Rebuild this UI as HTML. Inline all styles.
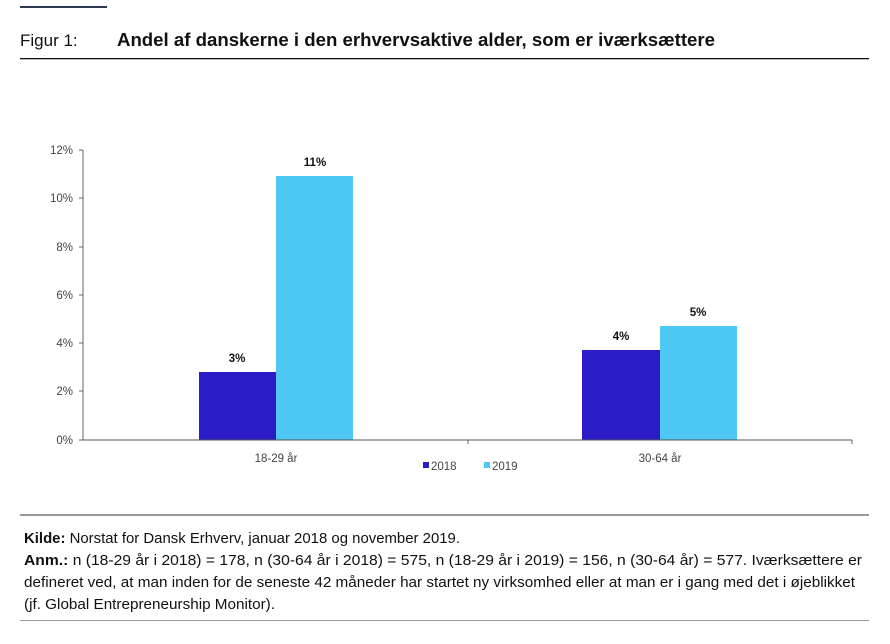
<!DOCTYPE html>
<html><head><meta charset="utf-8"><style>
body{margin:0;width:890px;height:639px;background:#fff;overflow:hidden;font-family:"Liberation Sans",sans-serif;}
</style></head><body>
<svg width="890" height="639" xmlns="http://www.w3.org/2000/svg" font-family="Liberation Sans, sans-serif">
<rect x="20" y="6" width="87" height="2" fill="#2a3a55"/>
<text x="20" y="46" font-size="17" fill="#111">Figur 1:</text>
<text x="117" y="46" font-size="18" font-weight="bold" fill="#111" textLength="598" lengthAdjust="spacingAndGlyphs">Andel af danskerne i den erhvervsaktive alder, som er iværksættere</text>
<rect x="20" y="58" width="849" height="1.3" fill="#111"/>
<g font-size="11.5" fill="#444" text-anchor="end">
<text x="73" y="154">12%</text><text x="73" y="202">10%</text><text x="73" y="251">8%</text>
<text x="73" y="299">6%</text><text x="73" y="347">4%</text><text x="73" y="395">2%</text><text x="73" y="444">0%</text>
</g>
<g stroke="#666" stroke-width="1">
<line x1="83" y1="150" x2="83" y2="440"/>
<line x1="79" y1="150" x2="83" y2="150"/><line x1="79" y1="198" x2="83" y2="198"/><line x1="79" y1="247" x2="83" y2="247"/>
<line x1="79" y1="295" x2="83" y2="295"/><line x1="79" y1="343" x2="83" y2="343"/><line x1="79" y1="391" x2="83" y2="391"/>
<line x1="79" y1="440" x2="83" y2="440"/>
<line x1="468" y1="440" x2="468" y2="444"/><line x1="852" y1="440" x2="852" y2="444"/>
</g>
<rect x="199" y="372" width="77" height="68" fill="#2a1dc8"/>
<rect x="276" y="176" width="77" height="264" fill="#4ec8f4"/>
<rect x="582" y="350" width="78" height="90" fill="#2a1dc8"/>
<rect x="660" y="326" width="77" height="114" fill="#4ec8f4"/>
<line x1="83" y1="440" x2="852" y2="440" stroke="#555" stroke-width="1"/>
<g font-size="11.5" font-weight="bold" fill="#111" text-anchor="middle">
<text x="237" y="362">3%</text><text x="315" y="166">11%</text>
<text x="621" y="340">4%</text><text x="698" y="316">5%</text>
</g>
<g font-size="11.5" fill="#444">
<text x="276" y="462" text-anchor="middle">18-29 år</text>
<text x="660" y="462" text-anchor="middle">30-64 år</text>
<rect x="423" y="462" width="6" height="6" fill="#2a1dc8"/><text x="431" y="470">2018</text>
<rect x="484" y="462" width="6" height="6" fill="#4ec8f4"/><text x="492" y="470">2019</text>
</g>
<rect x="20" y="514" width="849" height="2" fill="#999"/>
<g font-size="15" fill="#111">
<text x="24" y="543" textLength="436" lengthAdjust="spacingAndGlyphs"><tspan font-weight="bold">Kilde:</tspan> Norstat for Dansk Erhverv, januar 2018 og november 2019.</text>
<text x="24" y="565" textLength="838" lengthAdjust="spacingAndGlyphs"><tspan font-weight="bold">Anm.:</tspan> n (18-29 år i 2018) = 178, n (30-64 år i 2018) = 575, n (18-29 år i 2019) = 156, n (30-64 år) = 577. Iværksættere er</text>
<text x="24" y="587" textLength="831" lengthAdjust="spacingAndGlyphs">defineret ved, at man inden for de seneste 42 måneder har startet ny virksomhed eller at man er i gang med det i øjeblikket</text>
<text x="24" y="609" textLength="251" lengthAdjust="spacingAndGlyphs">(jf. Global Entrepreneurship Monitor).</text>
</g>
<rect x="20" y="620" width="849" height="1" fill="#999"/>
</svg>
</body></html>
